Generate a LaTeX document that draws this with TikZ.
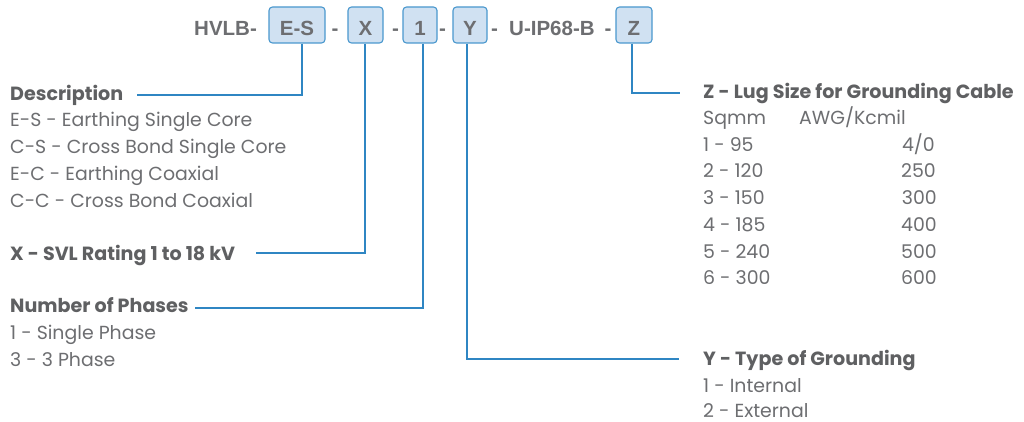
\documentclass[tikz,border=0pt]{standalone}
\usepackage{fontspec}
\setmainfont{Poppins}
\newfontfamily\hdrfont{Liberation Sans}
\definecolor{txt}{HTML}{6D6E71}
\definecolor{hd}{HTML}{5F6062}
\definecolor{ln}{HTML}{2F86C3}
\definecolor{bxfill}{HTML}{D0E1F2}
\definecolor{bxdraw}{HTML}{4A98CE}
\tikzset{
  hbox/.style={draw=bxdraw, fill=bxfill, line width=1.1pt, rounded corners=3.5pt, minimum height=36pt, inner sep=0pt},
  htext/.style={font=\hdrfont\fontsize{20.5}{22}\selectfont\bfseries, text=txt, inner sep=0pt, anchor=base},
  body/.style={font=\fontsize{18.9}{20}\selectfont, text=txt, inner sep=0pt, anchor=base west},
  bhead/.style={font=\fontsize{19.1}{20}\selectfont\bfseries, text=hd, inner sep=0pt, anchor=base west},
  conn/.style={draw=ln, line width=1.4pt},
}
\begin{document}
\begin{tikzpicture}[x=1pt,y=-1pt]
\useasboundingbox[fill=white] (0,0) rectangle (1024,422);
% header
\node[htext, anchor=base west] (hvlb) at (194,36) {HVLB-};
\node[hbox, minimum width=56pt] (es) at (297,25) {};
\node[htext] (est) at (297,36) {E-S};
\node[htext] (d1) at (335,36) {-};
\node[hbox, minimum width=35pt] (xb) at (365.5,25) {};
\node[htext] (xt) at (365.5,36) {X};
\node[htext] (d2) at (395.5,36) {-};
\node[hbox, minimum width=34pt] (ob) at (420,25) {};
\node[htext] (ot) at (420,36) {1};
\node[htext] (d3) at (442.5,36) {-};
\node[hbox, minimum width=34pt] (yb) at (470,25) {};
\node[htext] (yt) at (470,36) {Y};
\node[htext] (d4) at (494.5,36) {-};
\node[htext, anchor=base west] (uip) at (509,36) {U-IP68-B};
\node[htext] (d5) at (608,36) {-};
\node[hbox, minimum width=36pt] (zb) at (634,25) {};
\node[htext] (zt) at (634,36) {Z};

% left texts
\node[bhead] (desc) at (10,101) {Description};
\node[body] (es1) at (10,127) {E-S - Earthing Single Core};
\node[body] (cs1) at (10,154) {C-S - Cross Bond Single Core};
\node[body] (ec1) at (10,180) {E-C - Earthing Coaxial};
\node[body] (cc1) at (10,207) {C-C - Cross Bond Coaxial};
\node[bhead] (svl) at (10,260) {X - SVL Rating 1 to 18 kV};
\node[bhead] (nph) at (10,312.5) {Number of Phases};
\node[body] (p1) at (10,339) {1 - Single Phase};
\node[body] (p3) at (10,366) {3 - 3 Phase};

% right texts
\node[bhead] (lug) at (703,99) {Z - Lug Size for Grounding Cable};
\node[body] (sq) at (703,125) {Sqmm};
\node[body] (awg) at (799,125) {AWG/Kcmil};
\node[body] (r1) at (703,151.5) {1 - 95};
\node[body] (r2) at (703,178) {2 - 120};
\node[body] (r3) at (703,204.5) {3 - 150};
\node[body] (r4) at (703,231) {4 - 185};
\node[body] (r5) at (703,258) {5 - 240};
\node[body] (r6) at (703,284.5) {6 - 300};
\node[body, anchor=base east] (a1) at (935,151.5) {4/0};
\node[body, anchor=base east] (a2) at (936,178) {250};
\node[body, anchor=base east] (a3) at (937,204.5) {300};
\node[body, anchor=base east] (a4) at (937,231) {400};
\node[body, anchor=base east] (a5) at (937,258) {500};
\node[body, anchor=base east] (a6) at (937,284.5) {600};
\node[bhead] (typ) at (703,365.5) {Y - Type of Grounding};
\node[body] (g1) at (703,392) {1 - Internal};
\node[body] (g2) at (703,417.5) {2 - External};

% connector ends
\coordinate (cdesc) at (137,95);
\coordinate (csvl) at (256,253);
\coordinate (cnph) at (195,308);
\coordinate (ctyp) at (679,359);
\coordinate (clug) at (680,93);

\draw[conn] (es.south -| 302,0) |- (cdesc);
\draw[conn] (xb.south -| 365,0) |- (csvl);
\draw[conn] (ob.south -| 423,0) |- (cnph);
\draw[conn] (yb.south -| 467,0) |- (ctyp);
\draw[conn] (zb.south -| 632,0) |- (clug);
\end{tikzpicture}
\end{document}
